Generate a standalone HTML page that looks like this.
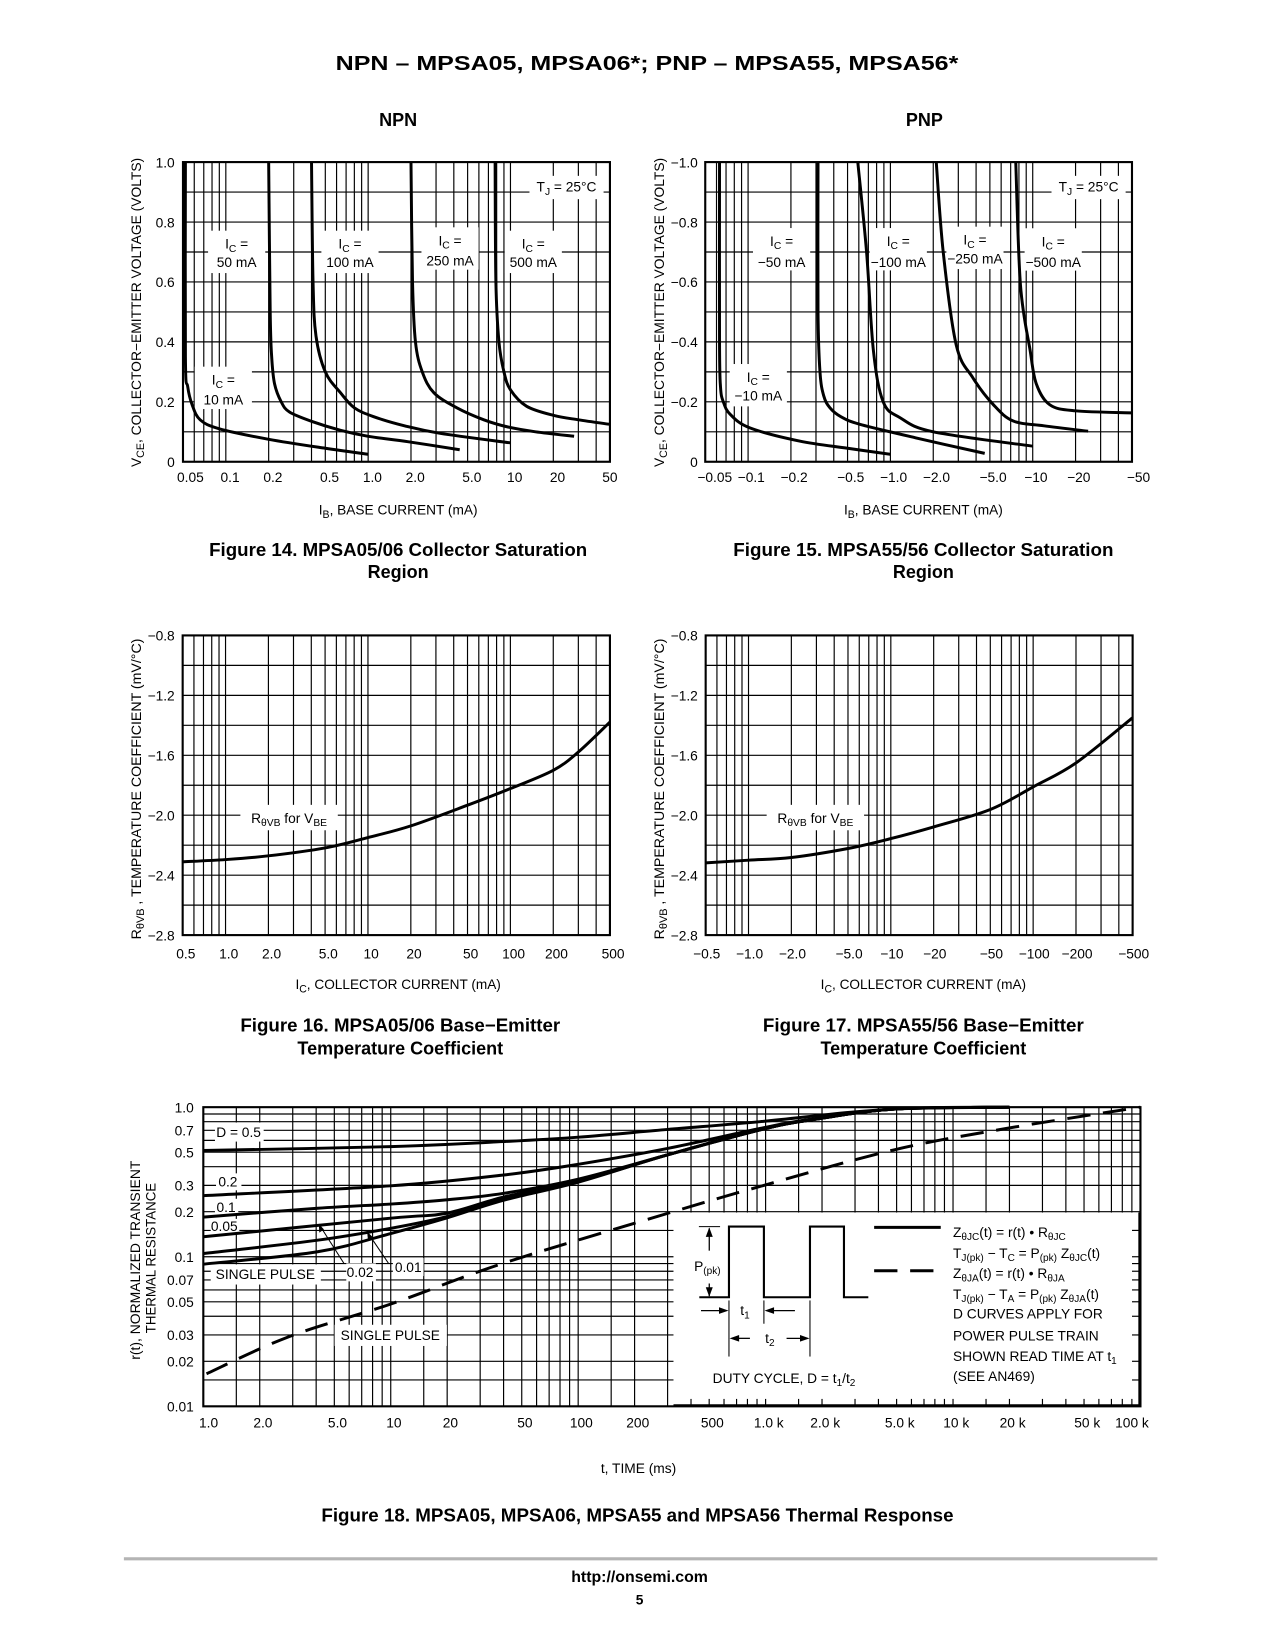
<!DOCTYPE html>
<html><head><meta charset="utf-8"><style>
html,body{margin:0;padding:0;background:#fff;}
svg{display:block;}
text{fill:#000;}
.t{font-family:"Liberation Sans Narrow","Liberation Sans",Arial,sans-serif;font-size:13px;}
.b{font-family:"Liberation Sans",Arial,sans-serif;font-weight:bold;}
</style></head><body>
<svg id="page" xmlns="http://www.w3.org/2000/svg" viewBox="0 0 1205 1559" width="1276" height="1651">
<rect x="0" y="0" width="1205" height="1559" fill="#fff"/>
<text class="b" x="611" y="66" font-size="19" text-anchor="middle" textLength="588" lengthAdjust="spacingAndGlyphs">NPN – MPSA05, MPSA06*; PNP – MPSA55, MPSA56*</text>
<text class="b" x="376" y="119" font-size="17" text-anchor="middle">NPN</text>
<text class="b" x="873" y="119" font-size="17" text-anchor="middle">PNP</text>

<g id="grids"></g>
<g id="boxes"></g>
<g id="curves"></g>
<g id="ticks" class="t"></g>

<g class="t" font-size="13.5">
<text transform="translate(133,295) rotate(-90)" text-anchor="middle" textLength="292" lengthAdjust="spacingAndGlyphs">V<tspan font-size="10" dy="3">CE</tspan><tspan dy="-3">, COLLECTOR−EMITTER VOLTAGE (VOLTS)</tspan></text>
<text transform="translate(627,295) rotate(-90)" text-anchor="middle" textLength="292" lengthAdjust="spacingAndGlyphs">V<tspan font-size="10" dy="3">CE</tspan><tspan dy="-3">, COLLECTOR−EMITTER VOLTAGE (VOLTS)</tspan></text>
<text x="376" y="486" text-anchor="middle" textLength="150" lengthAdjust="spacingAndGlyphs">I<tspan font-size="10" dy="3">B</tspan><tspan dy="-3">, BASE CURRENT (mA)</tspan></text>
<text x="872" y="486" text-anchor="middle" textLength="150" lengthAdjust="spacingAndGlyphs">I<tspan font-size="10" dy="3">B</tspan><tspan dy="-3">, BASE CURRENT (mA)</tspan></text>
<text transform="translate(133,745) rotate(-90)" text-anchor="middle" textLength="284" lengthAdjust="spacingAndGlyphs">R<tspan font-size="10" dy="3">θVB</tspan><tspan dy="-3"> , TEMPERATURE COEFFICIENT (mV/°C)</tspan></text>
<text transform="translate(627,745) rotate(-90)" text-anchor="middle" textLength="284" lengthAdjust="spacingAndGlyphs">R<tspan font-size="10" dy="3">θVB</tspan><tspan dy="-3"> , TEMPERATURE COEFFICIENT (mV/°C)</tspan></text>
<text x="376" y="934" text-anchor="middle" textLength="194" lengthAdjust="spacingAndGlyphs">I<tspan font-size="10" dy="3">C</tspan><tspan dy="-3">, COLLECTOR CURRENT (mA)</tspan></text>
<text x="872" y="934" text-anchor="middle" textLength="194" lengthAdjust="spacingAndGlyphs">I<tspan font-size="10" dy="3">C</tspan><tspan dy="-3">, COLLECTOR CURRENT (mA)</tspan></text>
<text transform="translate(132,1190) rotate(-90)" text-anchor="middle" textLength="188" lengthAdjust="spacingAndGlyphs">r(t), NORMALIZED TRANSIENT</text>
<text transform="translate(147,1188) rotate(-90)" text-anchor="middle" textLength="142" lengthAdjust="spacingAndGlyphs">THERMAL RESISTANCE</text>
<text x="603" y="1391" text-anchor="middle">t, TIME (ms)</text>
</g>

<g class="b" font-size="17">
<text x="376" y="525" text-anchor="middle" textLength="357" lengthAdjust="spacingAndGlyphs">Figure 14. MPSA05/06 Collector Saturation</text>
<text x="376" y="546" text-anchor="middle">Region</text>
<text x="872" y="525" text-anchor="middle" textLength="359" lengthAdjust="spacingAndGlyphs">Figure 15. MPSA55/56 Collector Saturation</text>
<text x="872" y="546" text-anchor="middle">Region</text>
<text x="378" y="974" text-anchor="middle" textLength="302" lengthAdjust="spacingAndGlyphs">Figure 16. MPSA05/06 Base−Emitter</text>
<text x="378" y="996" text-anchor="middle">Temperature Coefficient</text>
<text x="872" y="974" text-anchor="middle" textLength="303" lengthAdjust="spacingAndGlyphs">Figure 17. MPSA55/56 Base−Emitter</text>
<text x="872" y="996" text-anchor="middle">Temperature Coefficient</text>
<text x="602" y="1437" text-anchor="middle" textLength="597" lengthAdjust="spacingAndGlyphs">Figure 18. MPSA05, MPSA06, MPSA55 and MPSA56 Thermal Response</text>
</g>

<line x1="117" y1="1472" x2="1093" y2="1472" stroke="#b4b4b4" stroke-width="3"/>
<text class="b" x="604" y="1494" font-size="15" text-anchor="middle">http://onsemi.com</text>
<text class="b" x="604" y="1515" font-size="13" text-anchor="middle">5</text>

<script>
const npnIC10  = [[0.052,1.0],[0.052,0.35],[0.054,0.25],[0.058,0.19],[0.066,0.14],[0.09,0.11],[0.2,0.075],[0.5,0.045],[1.0,0.025]];
const npnIC50  = [[0.2,1.0],[0.205,0.5],[0.21,0.35],[0.22,0.26],[0.245,0.2],[0.28,0.166],[0.4,0.135],[0.64,0.105],[1.0,0.085],[1.9,0.067],[4.4,0.04]];
const npnIC100 = [[0.40,1.0],[0.41,0.6],[0.43,0.42],[0.5,0.3],[0.64,0.23],[0.8,0.18],[1.1,0.15],[1.8,0.12],[3.2,0.095],[10,0.063]];
const npnIC250 = [[2.0,1.0],[2.05,0.6],[2.15,0.4],[2.4,0.3],[2.9,0.23],[4.2,0.18],[6.5,0.14],[9.6,0.116],[15,0.1],[28,0.085]];
const npnIC500 = [[7.8,1.0],[7.9,0.6],[8.3,0.4],[9.0,0.3],[10,0.24],[13,0.185],[20,0.155],[30,0.14],[50,0.125]];
const pnpIC10  = [[-0.063,-1.0],[-0.063,-0.4],[-0.064,-0.25],[-0.067,-0.2],[-0.075,-0.158],[-0.103,-0.113],[-0.23,-0.069],[-0.5,-0.045],[-1.0,-0.025]];
const pnpIC50  = [[-0.31,-1.0],[-0.31,-0.5],[-0.32,-0.3],[-0.34,-0.22],[-0.376,-0.18],[-0.45,-0.15],[-0.61,-0.125],[-1.5,-0.08],[-4.6,-0.028]];
const pnpIC100 = [[-0.59,-1.0],[-0.68,-0.7],[-0.76,-0.37],[-0.89,-0.2],[-1.17,-0.147],[-2.0,-0.1],[-10,-0.052]];
const pnpIC250 = [[-2.1,-1.0],[-2.35,-0.7],[-2.9,-0.39],[-3.8,-0.28],[-5.3,-0.19],[-7.3,-0.136],[-12,-0.12],[-24.5,-0.102]];
const pnpIC500 = [[-7.6,-1.0],[-8.2,-0.59],[-9.6,-0.37],[-10.6,-0.26],[-13.2,-0.19],[-20,-0.17],[-50,-0.163]];
const tcNpnIC = [0.5,1,2,5,10,20,50,100,200,300,500];
const tcNpnV  = [-2.311,-2.296,-2.271,-2.218,-2.149,-2.071,-1.933,-1.822,-1.70,-1.578,-1.378];
const tcPnpIC = [-0.5,-1,-2,-5,-10,-20,-50,-100,-200,-500];
const tcPnpV  = [-2.318,-2.30,-2.282,-2.222,-2.156,-2.078,-1.962,-1.811,-1.651,-1.349];
const d05T = [1,10,40,100,300,932,3000,7000,20000];
const d05R = [0.513,0.545,0.589,0.63,0.71,0.80,0.93,0.99,1.0];
const d02T = [1,10,40,100,300,932,1730,4800,20000];
const d02R = [0.256,0.298,0.352,0.415,0.53,0.72,0.83,0.97,1.0];
const d01T = [1,4.07,10,19.7,39.7,100,300,932,1730,4800,20000];
const d01R = [0.184,0.211,0.225,0.24,0.265,0.33,0.48,0.705,0.82,0.97,1.0];
const d005T = [1,10,19.7,39.7,100,300,932,1730,4800,20000];
const d005R = [0.136,0.181,0.195,0.25,0.322,0.48,0.705,0.82,0.97,1.0];
const d002T = [1,4.07,10,19.7,39.7,100,300,932,1730,4800,20000];
const d002R = [0.105,0.129,0.155,0.185,0.242,0.318,0.48,0.705,0.82,0.97,1.0];
const singleT = [1,4.07,10,19.7,39.7,100,300,932,1730,4800,20000];
const singleR = [0.0892,0.108,0.143,0.181,0.238,0.315,0.48,0.705,0.82,0.97,1.0];
const jaT = [1.04,2.86,10.2,39.7,300,933,4800,19200,100000];
const jaR = [0.0165,0.0292,0.0487,0.0903,0.195,0.295,0.517,0.72,1.0];
const f14XTicks = [0.05,0.1,0.2,0.5,1,2,5,10,20,50];
const f14XLabels = ["0.05","0.1","0.2","0.5","1.0","2.0","5.0","10","20","50"];
const f14YTicks = [0,0.2,0.4,0.6,0.8,1.0];
const f14YLabels = ["0","0.2","0.4","0.6","0.8","1.0"];
const f15XLabels = ["−0.05","−0.1","−0.2","−0.5","−1.0","−2.0","−5.0","−10","−20","−50"];
const f15YLabels = ["0","−0.2","−0.4","−0.6","−0.8","−1.0"];
const f16XTicks = [0.5,1,2,5,10,20,50,100,200,500];
const f16XLabels = ["0.5","1.0","2.0","5.0","10","20","50","100","200","500"];
const f16YTicks = [-0.8,-1.2,-1.6,-2.0,-2.4,-2.8];
const f16YLabels = ["−0.8","−1.2","−1.6","−2.0","−2.4","−2.8"];
const f17XLabels = ["−0.5","−1.0","−2.0","−5.0","−10","−20","−50","−100","−200","−500"];
const f18XTicks = [1,2,5,10,20,50,100,200,500,1000,2000,5000,10000,20000,50000,100000];
const f18XLabels = ["1.0","2.0","5.0","10","20","50","100","200","500","1.0 k","2.0 k","5.0 k","10 k","20 k","50 k","100 k"];
const f18YTicks = [1.0,0.7,0.5,0.3,0.2,0.1,0.07,0.05,0.03,0.02,0.01];
const f18YLabels = ["1.0","0.7","0.5","0.3","0.2","0.1","0.07","0.05","0.03","0.02","0.01"];

const NS = "http://www.w3.org/2000/svg";
const L10 = Math.log10;
const gGrid = document.getElementById('grids');
const gBox = document.getElementById('boxes');
const gCurve = document.getElementById('curves');
const gTick = document.getElementById('ticks');
function mk(tag, parent){ const e = document.createElementNS(NS, tag); parent.appendChild(e); return e; }
function logVals(lo, hi, extra){
  const out = [];
  for (let d = -3; d <= 5; d++) {
    const ks = extra ? [1,1.5,2,3,4,5,6,7,8,9] : [1,2,3,4,5,6,7,8,9];
    for (const k of ks) { const v = k * Math.pow(10, d); if (v >= lo * 0.999 && v <= hi * 1.001) out.push(v); }
  }
  return out;
}
function seg(parent, x1, y1, x2, y2, w, name){
  const e = mk('line', parent);
  e.setAttribute('x1', x1); e.setAttribute('y1', y1); e.setAttribute('x2', x2); e.setAttribute('y2', y2);
  e.setAttribute('stroke', '#000'); e.setAttribute('stroke-width', w);
  
  
  return e;
}
function frame(f, xs, ys, name){
  const g = mk('g', gGrid);
  
  
  xs.forEach(v => { const x = f.xmap(v); seg(g, x, f.y0, x, f.y1, 1.1, 'grid-line-vertical'); });
  ys.forEach(v => { const y = f.ymap(v); seg(g, f.x0, y, f.x1, y, 1.1, 'grid-line-horizontal'); });
  const r = mk('rect', g);
  r.setAttribute('x', f.x0); r.setAttribute('y', f.y0);
  r.setAttribute('width', f.x1 - f.x0); r.setAttribute('height', f.y1 - f.y0);
  r.setAttribute('fill', 'none'); r.setAttribute('stroke', '#000'); r.setAttribute('stroke-width', 2);
  
  
  return g;
}
function smooth(p){
  let d = 'M' + p[0][0].toFixed(2) + ',' + p[0][1].toFixed(2);
  for (let i = 0; i < p.length - 1; i++) {
    const p0 = p[i-1] || p[i], p1 = p[i], p2 = p[i+1], p3 = p[i+2] || p[i+1];
    const c1x = p1[0] + (p2[0] - p0[0]) / 6, c1y = p1[1] + (p2[1] - p0[1]) / 6;
    const c2x = p2[0] - (p3[0] - p1[0]) / 6, c2y = p2[1] - (p3[1] - p1[1]) / 6;
    d += ' C' + c1x.toFixed(2) + ',' + c1y.toFixed(2) + ' ' + c2x.toFixed(2) + ',' + c2y.toFixed(2) + ' ' + p2[0].toFixed(2) + ',' + p2[1].toFixed(2);
  }
  return d;
}
function curve(f, xsArr, ysArr, name, dash){
  const pts = xsArr.map((x, i) => [f.xmap(x), f.ymap(ysArr[i])]);
  const e = mk('path', gCurve);
  e.setAttribute('d', smooth(pts));
  e.setAttribute('fill', 'none'); e.setAttribute('stroke', '#000'); e.setAttribute('stroke-width', 2.8);
  e.setAttribute('stroke-linejoin', 'round');
  if (dash) e.setAttribute('stroke-dasharray', dash);
  
  
}
function pairCurve(f, arr, name){ curve(f, arr.map(p => p[0]), arr.map(p => p[1]), name); }
function txt(parent, x, y, s, anchor, name, size){
  const e = mk('text', parent);
  e.setAttribute('x', x); e.setAttribute('y', y);
  e.setAttribute('text-anchor', anchor || 'middle');
  e.setAttribute('class', 't');
  if (size) e.setAttribute('font-size', size);
  e.textContent = s;
  
  
  return e;
}
function whiteBox(x, y, w, h){
  const r = mk('rect', gBox);
  r.setAttribute('x', x); r.setAttribute('y', y); r.setAttribute('width', w); r.setAttribute('height', h);
  r.setAttribute('fill', '#fff');
  
  
}
function subText(x, y, parts, anchor, name, size){
  const e = mk('text', gBox);
  e.setAttribute('x', x); e.setAttribute('y', y);
  e.setAttribute('text-anchor', anchor || 'middle');
  e.setAttribute('class', 't');
  e.setAttribute('font-size', size || 13.5);
  let cur = 0;
  parts.forEach(p => {
    const ts = document.createElementNS(NS, 'tspan');
    const target = p[1] ? 3 : 0;
    ts.setAttribute('dy', target - cur); cur = target;
    if (p[1]) ts.setAttribute('font-size', (size || 13.5) * 0.72);
    ts.textContent = p[0];
    e.appendChild(ts);
  });
  
  
  return e;
}
function icLabel(cx, cy1, cy2, val, name){
  whiteBox(cx - 27, cy1 - 12, 54, 40);
  subText(cx, cy1 + 5, [['I'], ['C', 1], [' =']], 'middle', name + '-line1', 13.5);
  txt(gBox, cx, cy2 + 5, val, 'middle', name + '-line2', 13.5);
}

const f14 = {x0:172.8, x1:576, y0:153, y1:436,
  xmap: v => 172.8 + 134.4 * L10(Math.abs(v) / 0.05), ymap: v => 436 - 283 * Math.abs(v)};
frame(f14, logVals(0.05, 50), [0.1,0.2,0.3,0.4,0.5,0.6,0.7,0.8,0.9], 'fig14-grid');
const f15 = {x0:666, x1:1069, y0:153, y1:436,
  xmap: v => 666 + 134.4 * L10(Math.abs(v) / 0.05), ymap: v => 436 - 283 * Math.abs(v)};
frame(f15, logVals(0.05, 50), [0.1,0.2,0.3,0.4,0.5,0.6,0.7,0.8,0.9], 'fig15-grid');
const f16 = {x0:172.5, x1:576, y0:600, y1:883,
  xmap: v => 172.5 + 134.5 * L10(Math.abs(v) / 0.5), ymap: v => 600 + (-0.8 - v) / 2 * 283};
frame(f16, logVals(0.5, 500), [-1.0,-1.2,-1.4,-1.6,-1.8,-2.0,-2.2,-2.4,-2.6], 'fig16-grid');
const f17 = {x0:666.4, x1:1069.6, y0:600, y1:883,
  xmap: v => 666.4 + 134.4 * L10(Math.abs(v) / 0.5), ymap: v => 600 + (-0.8 - v) / 2 * 283};
frame(f17, logVals(0.5, 500), [-1.0,-1.2,-1.4,-1.6,-1.8,-2.0,-2.2,-2.4,-2.6], 'fig17-grid');
const f18 = {x0:192, x1:1077, y0:1045.5, y1:1328,
  xmap: v => 192 + 177 * L10(v), ymap: v => 1045.5 - 141.25 * L10(v)};
const f18xs = logVals(1, 100000, true);
const f18ys = logVals(0.01, 1, true);
frame(f18, f18xs, f18ys, 'fig18-grid');
(function(){
  const r = mk('rect', gGrid);
  r.setAttribute('x', 636); r.setAttribute('y', 1145); r.setAttribute('width', 1076 - 636); r.setAttribute('height', 1327 - 1145);
  r.setAttribute('fill', '#fff');
  
  
  f18xs.forEach(v => { const x = f18.xmap(v); if (x > 636 && x < 1076) seg(gGrid, x, 1321, x, 1328, 1.1, 'bottom-tick'); });
  f18ys.forEach(v => { const y = f18.ymap(v); if (y > 1145 && y < 1327) seg(gGrid, 1069, y, 1077, y, 1.1, 'right-tick'); });
  seg(gGrid, 636, 1327, 1077, 1327, 2, 'fig18-bottom-border');
  seg(gGrid, 1076, 1145, 1076, 1328, 2, 'fig18-right-border');
})();

f14XTicks.forEach((v, i) => txt(gTick, f14.xmap(v) + (i === 0 ? 7 : (i === f14XTicks.length - 1 ? 0 : 4)), 455, f14XLabels[i], 'middle', 'fig14-x-tick-label', 13));
f14YTicks.forEach((v, i) => txt(gTick, 165, f14.ymap(v) + 5, f14YLabels[i], 'end', 'fig14-y-tick-label', 13));
f14XTicks.forEach((v, i) => txt(gTick, f15.xmap(v) + (i === 0 ? 9 : (i === f14XTicks.length - 1 ? 6 : 3)), 455, f15XLabels[i], 'middle', 'fig15-x-tick-label', 13));
f14YTicks.forEach((v, i) => txt(gTick, 659, f15.ymap(v) + 5, f15YLabels[i], 'end', 'fig15-y-tick-label', 13));
f16XTicks.forEach((v, i) => txt(gTick, f16.xmap(v) + 3, 905, f16XLabels[i], 'middle', 'fig16-x-tick-label', 13));
f16YTicks.forEach((v, i) => txt(gTick, 165, f16.ymap(v) + 5, f16YLabels[i], 'end', 'fig16-y-tick-label', 13));
f16XTicks.forEach((v, i) => txt(gTick, f17.xmap(v) + 1, 905, f17XLabels[i], 'middle', 'fig17-x-tick-label', 13));
f16YTicks.forEach((v, i) => txt(gTick, 659, f17.ymap(v) + 5, f16YLabels[i], 'end', 'fig17-y-tick-label', 13));
f18XTicks.forEach((v, i) => txt(gTick, f18.xmap(v) + (i === 0 ? 5 : (i === f18XTicks.length - 1 ? -8 : 3)), 1348, f18XLabels[i], 'middle', 'fig18-x-tick-label', 13));
f18YTicks.forEach((v, i) => txt(gTick, 183, f18.ymap(v) + 5, f18YLabels[i], 'end', 'fig18-y-tick-label', 13));

icLabel(223.5, 229.8, 247.1, '50 mA', 'npn-ic50-label');
icLabel(330.5, 229.8, 247.1, '100 mA', 'npn-ic100-label');
icLabel(425, 226.6, 245.5, '250 mA', 'npn-ic250-label');
icLabel(503.6, 229.8, 247.1, '500 mA', 'npn-ic500-label');
icLabel(210.9, 358.2, 377.1, '10 mA', 'npn-ic10-label');
icLabel(738.1, 227.3, 247.1, '−50 mA', 'pnp-ic50-label');
icLabel(848.3, 227.3, 247.1, '−100 mA', 'pnp-ic100-label');
icLabel(920.7, 226, 244, '−250 mA', 'pnp-ic250-label');
icLabel(994.6, 227.5, 247, '−500 mA', 'pnp-ic500-label');
icLabel(716.1, 355.7, 373, '−10 mA', 'pnp-ic10-label');
whiteBox(500, 166, 70, 22);
subText(535, 181, [['T'], ['J', 1], [' = 25°C']], 'middle', 'fig14-temperature-note', 13.5);
whiteBox(993, 166, 70, 22);
subText(1028, 181, [['T'], ['J', 1], [' = 25°C']], 'middle', 'fig15-temperature-note', 13.5);
whiteBox(227, 760, 92, 24);
subText(273, 777, [['R'], ['θVB', 1], [' for V'], ['BE', 1]], 'middle', 'fig16-curve-label', 13.5);
whiteBox(724, 760, 92, 24);
subText(770, 777, [['R'], ['θVB', 1], [' for V'], ['BE', 1]], 'middle', 'fig17-curve-label', 13.5);

whiteBox(203, 1060, 46, 18); txt(gBox, 225.3, 1073.5, 'D = 0.5', 'middle', 'duty-05-label', 13.5);
whiteBox(204, 1108, 24, 16); txt(gBox, 215.2, 1120.5, '0.2', 'middle', 'duty-02-label', 13.5);
whiteBox(203, 1132, 22, 15); txt(gBox, 213.5, 1144.5, '0.1', 'middle', 'duty-01-label', 13.5);
whiteBox(199, 1151, 27, 13); txt(gBox, 211.8, 1162.5, '0.05', 'middle', 'duty-005-label', 13.5);
whiteBox(199, 1194, 104, 19); txt(gBox, 250.6, 1208, 'SINGLE PULSE', 'middle', 'single-pulse-d-label', 13.5);
whiteBox(327, 1193, 28, 17); txt(gBox, 340, 1206, '0.02', 'middle', 'duty-002-label', 13.5);
whiteBox(371, 1188, 29, 17); txt(gBox, 385.5, 1201, '0.01', 'middle', 'duty-001-label', 13.5);
whiteBox(316, 1251, 106, 20); txt(gBox, 368.6, 1265.5, 'SINGLE PULSE', 'middle', 'single-pulse-ja-label', 13.5);

pairCurve(f14, npnIC10, 'npn-ic10-curve');
pairCurve(f14, npnIC50, 'npn-ic50-curve');
pairCurve(f14, npnIC100, 'npn-ic100-curve');
pairCurve(f14, npnIC250, 'npn-ic250-curve');
pairCurve(f14, npnIC500, 'npn-ic500-curve');
pairCurve(f15, pnpIC10, 'pnp-ic10-curve');
pairCurve(f15, pnpIC50, 'pnp-ic50-curve');
pairCurve(f15, pnpIC100, 'pnp-ic100-curve');
pairCurve(f15, pnpIC250, 'pnp-ic250-curve');
pairCurve(f15, pnpIC500, 'pnp-ic500-curve');
curve(f16, tcNpnIC, tcNpnV, 'npn-temp-coefficient-curve');
curve(f17, tcPnpIC, tcPnpV, 'pnp-temp-coefficient-curve');
curve(f18, d05T, d05R, 'duty-05-curve');
curve(f18, d02T, d02R, 'duty-02-curve');
curve(f18, d01T, d01R, 'duty-01-curve');
curve(f18, d005T, d005R, 'duty-005-curve');
curve(f18, d002T, d002R, 'duty-002-curve');
curve(f18, singleT, singleR, 'single-pulse-curve');
curve(f18, jaT, jaR, 'z-theta-ja-dashed-curve', '22 12');

(function(){
  const g = mk('g', gCurve);
  
  
  seg(g, 324.8, 1193, 301.1, 1155.8, 1, 'leader-002');
  seg(g, 366.9, 1193, 346.7, 1163.1, 1, 'leader-001');
  const a1 = mk('path', g); a1.setAttribute('d', 'M301.1,1155.8 L301.5,1164 L306,1161 Z'); a1.setAttribute('fill', '#000');
  
  
  const a2 = mk('path', g); a2.setAttribute('d', 'M346.7,1163.1 L347.5,1171 L351.8,1168 Z'); a2.setAttribute('fill', '#000');
  
  
})();
</script>

<g>
<path d="M660.4,1225 H688.4 V1158.3 H721.4 V1225 H764.9 V1158.3 H797 V1225 H820" fill="none" stroke="#000" stroke-width="2"/>
<line x1="660" y1="1158.3" x2="680" y2="1158.3" stroke="#000" stroke-width="1"/>
<line x1="669.8" y1="1160" x2="669.8" y2="1181" stroke="#000" stroke-width="1.2"/>
<path d="M669.8,1159 L666.5,1168 L673.1,1168 Z" fill="#000"/>
<line x1="669.8" y1="1212" x2="669.8" y2="1224" stroke="#000" stroke-width="1.2"/>
<path d="M669.8,1224.5 L666.5,1215.5 L673.1,1215.5 Z" fill="#000"/>
<text class="t" x="668" y="1200" text-anchor="middle" font-size="13.5">P<tspan font-size="9.5" dy="3">(pk)</tspan></text>
<line x1="688.4" y1="1228" x2="688.4" y2="1281" stroke="#000" stroke-width="1"/>
<line x1="721.4" y1="1228" x2="721.4" y2="1250" stroke="#000" stroke-width="1"/>
<line x1="764.9" y1="1228" x2="764.9" y2="1281" stroke="#000" stroke-width="1"/>
<line x1="662" y1="1237.6" x2="682" y2="1237.6" stroke="#000" stroke-width="1.2"/>
<path d="M688,1237.6 L679,1234.5 L679,1240.7 Z" fill="#000"/>
<line x1="728" y1="1237.6" x2="750.7" y2="1237.6" stroke="#000" stroke-width="1.2"/>
<path d="M722,1237.6 L731,1234.5 L731,1240.7 Z" fill="#000"/>
<text class="t" x="703.5" y="1242" text-anchor="middle" font-size="13.5">t<tspan font-size="9.5" dy="3">1</tspan></text>
<line x1="694" y1="1263.8" x2="708.2" y2="1263.8" stroke="#000" stroke-width="1.2"/>
<path d="M689,1263.8 L698,1260.7 L698,1266.9 Z" fill="#000"/>
<line x1="742.8" y1="1263.8" x2="759" y2="1263.8" stroke="#000" stroke-width="1.2"/>
<path d="M764.5,1263.8 L755.5,1260.7 L755.5,1266.9 Z" fill="#000"/>
<text class="t" x="727" y="1268" text-anchor="middle" font-size="13.5">t<tspan font-size="9.5" dy="3">2</tspan></text>
<text class="t" x="673" y="1306" font-size="14">DUTY CYCLE, D = t<tspan font-size="9.5" dy="3">1</tspan><tspan dy="-3">/t</tspan><tspan font-size="9.5" dy="3">2</tspan></text>
<line x1="825.5" y1="1159" x2="888.4" y2="1159" stroke="#000" stroke-width="2.8"/>
<line x1="825.5" y1="1200" x2="888.4" y2="1200" stroke="#000" stroke-width="2.8" stroke-dasharray="22 12"/>
<g class="t" font-size="14">
<text x="900" y="1168">Z<tspan font-size="9.5" dy="3">θJC</tspan><tspan dy="-3">(t) = r(t) • R</tspan><tspan font-size="9.5" dy="3">θJC</tspan></text>
<text x="900" y="1188">T<tspan font-size="9.5" dy="3">J(pk)</tspan><tspan dy="-3"> − T</tspan><tspan font-size="9.5" dy="3">C</tspan><tspan dy="-3"> = P</tspan><tspan font-size="9.5" dy="3">(pk)</tspan><tspan dy="-3"> Z</tspan><tspan font-size="9.5" dy="3">θJC</tspan><tspan dy="-3">(t)</tspan></text>
<text x="900" y="1207">Z<tspan font-size="9.5" dy="3">θJA</tspan><tspan dy="-3">(t) = r(t) • R</tspan><tspan font-size="9.5" dy="3">θJA</tspan></text>
<text x="900" y="1226.5">T<tspan font-size="9.5" dy="3">J(pk)</tspan><tspan dy="-3"> − T</tspan><tspan font-size="9.5" dy="3">A</tspan><tspan dy="-3"> = P</tspan><tspan font-size="9.5" dy="3">(pk)</tspan><tspan dy="-3"> Z</tspan><tspan font-size="9.5" dy="3">θJA</tspan><tspan dy="-3">(t)</tspan></text>
<text x="900" y="1245">D CURVES APPLY FOR</text>
<text x="900" y="1266">POWER PULSE TRAIN</text>
<text x="900" y="1285">SHOWN READ TIME AT t<tspan font-size="9.5" dy="3">1</tspan></text>
<text x="900" y="1304">(SEE AN469)</text>
</g>
</g>
</svg>
</body></html>
